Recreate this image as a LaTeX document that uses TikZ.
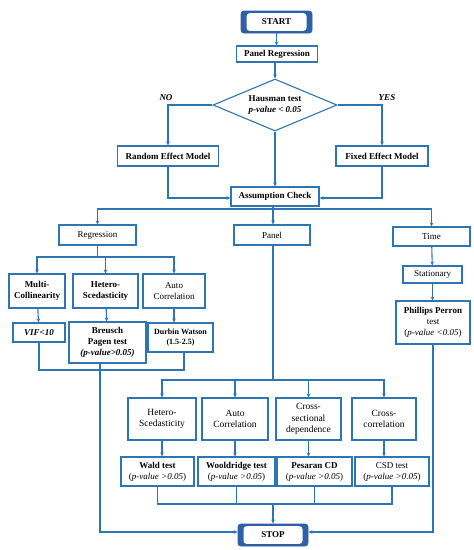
\documentclass[tikz,border=0pt]{standalone}
\usepackage{fontspec}
\setmainfont{Liberation Serif}
\usetikzlibrary{shapes.geometric,arrows.meta}
\definecolor{lineblue}{HTML}{2E75B6}
\definecolor{termblue}{HTML}{2F5FA8}
\newcommand\mybox[6]{\node[box,minimum width=#4pt,minimum height=#5pt] (#1) at (#2,#3) {#6};}
\begin{document}
\begin{tikzpicture}[x=1pt,y=-1pt,
  box/.style={draw=lineblue, line width=1.1pt, fill=white, align=center, inner sep=1pt, font=\fontsize{9}{11}\selectfont},
  big/.style={font=\fontsize{9.5}{11.5}\selectfont},
  term/.style={draw=termblue, fill=termblue, rounded corners=3pt, line width=0.8pt, align=center, inner sep=1pt,
    font=\fontsize{9}{10}\selectfont\bfseries,
    path picture={\fill[white] ([xshift=5.5pt,yshift=2.2pt]path picture bounding box.south west) rectangle ([xshift=-5.5pt,yshift=-2.2pt]path picture bounding box.north east);}},
  arr/.style={draw=lineblue, line width=1.1pt, -{Stealth[length=4pt,width=3.6pt]}},
  ln/.style={draw=lineblue, line width=1.1pt},
  lab/.style={font=\fontsize{9}{10}\selectfont\bfseries\itshape}]
\useasboundingbox (0,0) rectangle (474,550);

% terminals
\node[term, minimum width=71pt, minimum height=22pt] (start) at (276.5,22) {START};
\node[term, minimum width=70pt, minimum height=22pt] (stop) at (273,535) {STOP};

% top part
\mybox{panreg}{277}{54}{81}{16}{\textbf{Panel Regression}}
\node[draw=lineblue, line width=1.1pt, fill=white, diamond, aspect=2.4, inner sep=0pt,
  minimum width=124pt, minimum height=52pt, align=center, font=\fontsize{9}{10.5}\selectfont] (dia) at (275,105)
  {\textbf{Hausman test}\\\textbf{\textit{p-value < 0.05}}};
\node[lab] (no) at (166,98) {NO};
\node[lab] (yes) at (387,98) {YES};
\mybox{random}{168}{156}{101}{20}{\textbf{Random Effect Model}}
\mybox{fixed}{382}{156}{92}{20}{\textbf{Fixed Effect Model}}
\mybox{assume}{275}{196.5}{88}{19}{\textbf{Assumption Check}}

% second level
\mybox{regression}{97.5}{235}{77}{20}{Regression}
\mybox{panel}{272}{235}{76}{20}{Panel}
\mybox{time}{431.5}{236.5}{77}{19}{Time}

% regression subtree
\mybox{multi}{37}{291}{56}{34}{\textbf{Multi-}\\\textbf{Collinearity}}
\mybox{hetero1}{105.5}{291}{65}{34}{\textbf{Hetero-}\\\textbf{Scedasticity}}
\mybox{auto1}{174}{291}{62}{34}{Auto\\Correlation}
\mybox{vif}{39}{332.5}{52}{19}{\textbf{\textit{VIF<10}}}
\mybox{breusch}{107.5}{342.5}{77}{41}{\textbf{Breusch}\\\textbf{Pagen test}\\\textbf{\textit{(p-value>0.05)}}}
\node[box, minimum width=65pt, minimum height=29pt, font=\fontsize{8}{10.5}\selectfont] (durbin) at (180.5,337.5) {\textbf{Durbin Watson}\\\textbf{(1.5-2.5)}};

% time subtree
\mybox{stationary}{432.5}{274.5}{59}{17}{Stationary}
\mybox{phillips}{433}{322.5}{74}{43}{\textbf{Phillips Perron}\\test\\(\textit{p-value <0.05})}

% panel subtree
\node[box, big, minimum width=68pt, minimum height=42pt] (hetero2) at (162,419) {Hetero-\\Scedasticity};
\node[box, big, minimum width=66pt, minimum height=42pt] (auto2) at (235,419) {Auto\\Correlation};
\node[box, big, minimum width=65pt, minimum height=42pt] (cross1) at (308.5,419) {Cross-\\sectional\\dependence};
\node[box, big, minimum width=64pt, minimum height=42pt] (cross2) at (384,419) {Cross-\\correlation};
\mybox{wald}{157.5}{471.5}{73}{29}{\textbf{Wald test}\\(\textit{p-value >0.05})}
\mybox{wool}{236.5}{471.5}{77}{29}{\textbf{Wooldridge test}\\(\textit{p-value >0.05})}
\mybox{pes}{314.5}{471.5}{75}{29}{\textbf{Pesaran CD}\\(\textit{p-value >0.05})}
\mybox{csd}{392}{471.5}{74}{29}{CSD test\\(\textit{p-value >0.05})}

% junctions
\coordinate (ja) at (273,209);
\coordinate (jr) at (97.5,257);
\coordinate (jb) at (100,370);
\coordinate (jp) at (273,380);
\coordinate (js) at (273,504);

% connectors, top
\draw[arr] (start) -- (start |- panreg.north);
\draw[arr] (panreg.south -| dia.north) -- (dia.north);
\draw[arr] (dia.west) -| (random.north);
\draw[arr] (dia.east) -| (fixed.north);
\draw[arr] (dia.south) -- (dia.south |- assume.north);
\draw[arr] (random.south) |- ([yshift=-1.5pt]assume.west);
\draw[arr] (fixed.south) |- ([yshift=-1.5pt]assume.east);

% assumption branches
\draw[ln] (assume.south -| ja) -- (ja);
\draw[arr] (ja) -| (regression.north);
\draw[arr] (ja) -- (ja |- panel.north);
\draw[arr] (ja) -| (time.north);

% regression branches
\draw[ln] (regression.south) -- (jr);
\draw[arr] (jr) -| (multi.north);
\draw[arr] (jr) -| (hetero1.north);
\draw[arr] (jr) -| (auto1.north);
\draw[arr] (multi) -- (vif);
\draw[arr] (hetero1) -- (breusch);
\draw[arr] (auto1.south) -- (auto1.south |- durbin.north);
\draw[ln] (vif.south) |- (jb);
\draw[ln] ([xshift=3.5pt]durbin.south) |- (jb);
\draw[arr] (jb |- breusch.south) |- ([yshift=3pt]stop.west);

% time branch
\draw[arr] (time) -- (stationary);
\draw[arr] (stationary) -- (stationary.south |- phillips.north);
\draw[arr] (phillips.south) |- ([yshift=3pt]stop.east);

% panel branches
\draw[ln] (panel.south -| jp) -- (jp);
\draw[arr] (jp) -| (hetero2.north);
\draw[arr] (jp) -| (auto2.north);
\draw[arr] (jp) -| (cross1.north);
\draw[arr] (jp) -| (cross2.north);
\draw[arr] (hetero2.south) -- (hetero2.south |- wald.north);
\draw[arr] (auto2.south) -- (auto2.south |- wool.north);
\draw[arr] (cross1.south) -- (cross1.south |- pes.north);
\draw[arr] (cross2.south) -- (cross2.south |- csd.north);
\draw[ln] (wald.south) |- (js);
\draw[ln] (wool.south) |- (js);
\draw[ln] (pes.south) |- (js);
\draw[ln] (csd.south) |- (js);
\draw[arr] (js) -- (stop.north);
\end{tikzpicture}
\end{document}
